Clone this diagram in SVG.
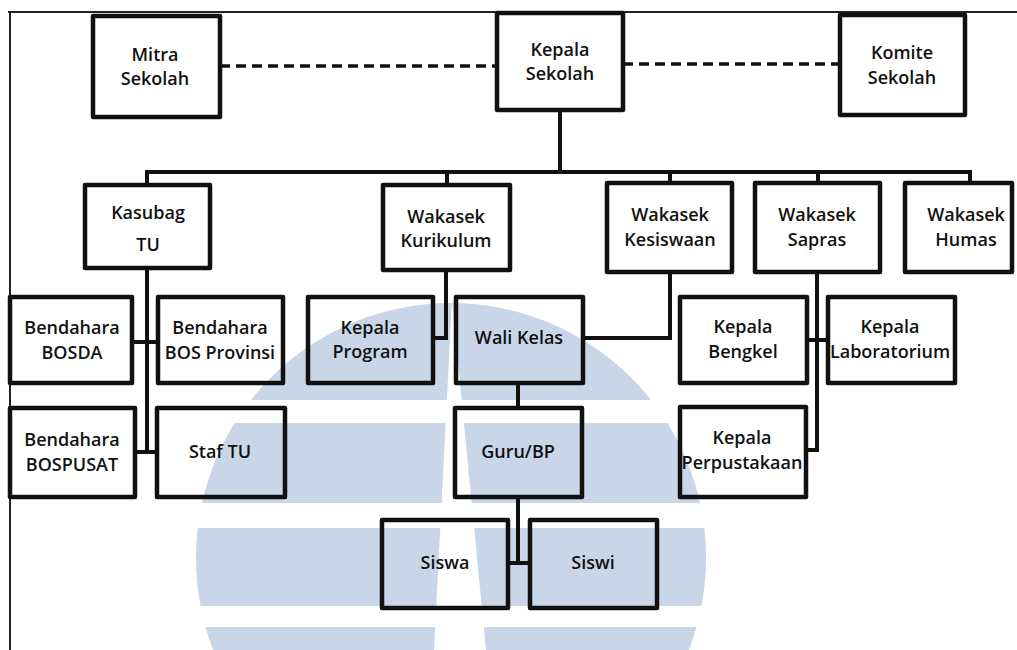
<svg xmlns="http://www.w3.org/2000/svg" width="1017" height="650" viewBox="0 0 1017 650">
  <style>
    .box { fill: none; stroke: #111; stroke-width: 4.5; stroke-linejoin: round; }
    .lbl { font-family: "Open Sans", "Noto Sans", "Liberation Sans", sans-serif; font-size: 18px; font-weight: 600; fill: #111; text-anchor: middle; }
    .con { fill: none; stroke: #111; stroke-width: 4; stroke-linejoin: miter; }
    .dash { fill: none; stroke: #111; stroke-width: 3.5; stroke-dasharray: 10 6; }
    .frame { fill: none; stroke: #222; stroke-width: 2; }
  </style>
  <rect x="0" y="0" width="1017" height="650" fill="#ffffff"/>
  <g id="watermark">
    <circle cx="451" cy="558" r="255" fill="#c8d6e8"/>
    <rect x="180" y="400" width="560" height="23" fill="#ffffff"/>
    <rect x="180" y="503" width="560" height="25" fill="#ffffff"/>
    <rect x="180" y="606" width="560" height="21" fill="#ffffff"/>
    <polygon points="452,300 434,650 486,650" fill="#ffffff"/>
  </g>
  <g id="frame">
    <path class="frame" d="M8,12 H1017 M10,12 V650"/>
  </g>
  <g id="connectors">
    <path class="dash" d="M220,66 H497"/>
    <path class="dash" d="M623,64 H840"/>
    <path class="con" d="M560,110 V172"/>
    <path class="con" d="M147,185 V172 H970 V183"/>
    <path class="con" d="M447,172 V185 M670,172 V183 M818,172 V183"/>
    <path class="con" d="M147,268 V452 M132,342 H158 M135,452 H157"/>
    <path class="con" d="M446,270 V338 H433"/>
    <path class="con" d="M670,272 V338 H583"/>
    <path class="con" d="M518,383 V408"/>
    <path class="con" d="M518,497 V563 M508,563 H530"/>
    <path class="con" d="M817,272 V450 H806 M807,340 H828"/>
  </g>
  <g id="mitra-sekolah">
    <rect class="box" x="93" y="16" width="127" height="101"/>
    <text class="lbl" x="155" y="61">Mitra</text>
    <text class="lbl" x="155" y="85">Sekolah</text>
  </g>
  <g id="kepala-sekolah">
    <rect class="box" x="497" y="13" width="126" height="97"/>
    <text class="lbl" x="560" y="56">Kepala</text>
    <text class="lbl" x="560" y="80">Sekolah</text>
  </g>
  <g id="komite-sekolah">
    <rect class="box" x="840" y="15" width="125" height="100"/>
    <text class="lbl" x="902" y="59">Komite</text>
    <text class="lbl" x="902" y="84">Sekolah</text>
  </g>
  <g id="kasubag-tu">
    <rect class="box" x="85" y="185" width="125" height="83"/>
    <text class="lbl" x="148" y="219">Kasubag</text>
    <text class="lbl" x="148" y="251">TU</text>
  </g>
  <g id="wakasek-kurikulum">
    <rect class="box" x="383" y="185" width="127" height="85"/>
    <text class="lbl" x="446" y="223">Wakasek</text>
    <text class="lbl" x="446" y="247">Kurikulum</text>
  </g>
  <g id="wakasek-kesiswaan">
    <rect class="box" x="607" y="183" width="125" height="89"/>
    <text class="lbl" x="670" y="221">Wakasek</text>
    <text class="lbl" x="670" y="246">Kesiswaan</text>
  </g>
  <g id="wakasek-sapras">
    <rect class="box" x="755" y="183" width="125" height="89"/>
    <text class="lbl" x="817" y="221">Wakasek</text>
    <text class="lbl" x="817" y="246">Sapras</text>
  </g>
  <g id="wakasek-humas">
    <rect class="box" x="905" y="183" width="107" height="89"/>
    <text class="lbl" x="966" y="221">Wakasek</text>
    <text class="lbl" x="966" y="246">Humas</text>
  </g>
  <g id="bendahara-bosda">
    <rect class="box" x="10" y="297" width="122" height="86"/>
    <text class="lbl" x="72" y="334">Bendahara</text>
    <text class="lbl" x="72" y="359">BOSDA</text>
  </g>
  <g id="bendahara-bos-provinsi">
    <rect class="box" x="158" y="297" width="125" height="86"/>
    <text class="lbl" x="220" y="334">Bendahara</text>
    <text class="lbl" x="220" y="359">BOS Provinsi</text>
  </g>
  <g id="kepala-program">
    <rect class="box" x="308" y="297" width="125" height="86"/>
    <text class="lbl" x="370" y="334">Kepala</text>
    <text class="lbl" x="370" y="358">Program</text>
  </g>
  <g id="wali-kelas">
    <rect class="box" x="456" y="297" width="127" height="86"/>
    <text class="lbl" x="519" y="344">Wali Kelas</text>
  </g>
  <g id="kepala-bengkel">
    <rect class="box" x="680" y="297" width="127" height="86"/>
    <text class="lbl" x="743" y="333">Kepala</text>
    <text class="lbl" x="743" y="358">Bengkel</text>
  </g>
  <g id="kepala-laboratorium">
    <rect class="box" x="828" y="297" width="127" height="86"/>
    <text class="lbl" x="890" y="333">Kepala</text>
    <text class="lbl" x="890" y="358">Laboratorium</text>
  </g>
  <g id="bendahara-bospusat">
    <rect class="box" x="10" y="408" width="125" height="89"/>
    <text class="lbl" x="72" y="446">Bendahara</text>
    <text class="lbl" x="72" y="471">BOSPUSAT</text>
  </g>
  <g id="staf-tu">
    <rect class="box" x="157" y="408" width="128" height="89"/>
    <text class="lbl" x="220" y="458">Staf TU</text>
  </g>
  <g id="guru-bp">
    <rect class="box" x="455" y="408" width="127" height="89"/>
    <text class="lbl" x="518" y="458">Guru/BP</text>
  </g>
  <g id="kepala-perpustakaan">
    <rect class="box" x="680" y="407" width="126" height="90"/>
    <text class="lbl" x="742" y="444">Kepala</text>
    <text class="lbl" x="742" y="469">Perpustakaan</text>
  </g>
  <g id="siswa">
    <rect class="box" x="382" y="520" width="126" height="88"/>
    <text class="lbl" x="445" y="569">Siswa</text>
  </g>
  <g id="siswi">
    <rect class="box" x="530" y="520" width="127" height="88"/>
    <text class="lbl" x="593" y="569">Siswi</text>
  </g>
</svg>
